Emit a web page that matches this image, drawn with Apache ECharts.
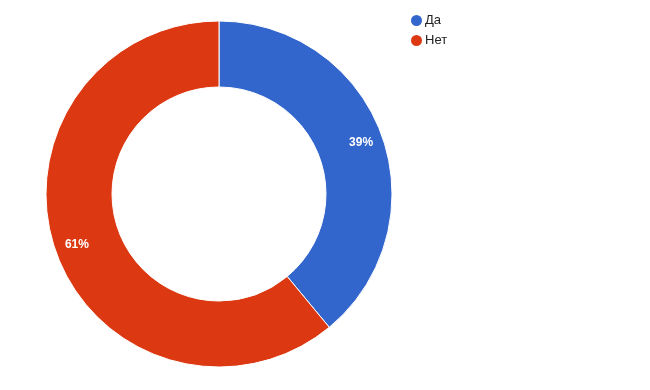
<!DOCTYPE html>
<html>
<head>
<meta charset="utf-8">
<script src="https://cdn.jsdelivr.net/npm/echarts@6/dist/echarts.min.js"></script>
<style>html,body{margin:0;padding:0;background:#fff;}#c{width:650px;height:390px;}</style>
</head>
<body>
<div id="c"></div>
<script>
var categories = ['Да', 'Нет'];
var values = [39, 61];
var colors = ['#3366CC', '#DC3912'];

var data = categories.map(function (name, i) {
  return { name: name, value: values[i], itemStyle: { color: colors[i] } };
});
var labelData = categories.map(function (name, i) {
  return { name: name, value: values[i] };
});

var chart = echarts.init(document.getElementById('c'), null, { renderer: 'canvas' });
chart.setOption({
  animation: false,
  backgroundColor: '#ffffff',
  legend: {
    orient: 'vertical',
    left: 404,
    top: 8,
    padding: 5,
    icon: 'circle',
    itemWidth: 13,
    itemHeight: 13,
    itemGap: 5,
    data: categories,
    textStyle: { fontFamily: 'Liberation Sans, Arial, sans-serif', fontSize: 13, color: '#222222', padding: [0, 0, 0, -3] }
  },
  series: [
    {
      type: 'pie',
      center: [219, 194],
      radius: [107, 173],
      startAngle: 90,
      clockwise: true,
      data: data,
      label: { show: false },
      labelLine: { show: false },
      itemStyle: { borderColor: '#ffffff', borderWidth: 1 },
      emphasis: { disabled: true }
    },
    {
      type: 'pie',
      center: [219, 194],
      radius: [123, 173],
      startAngle: 90,
      clockwise: true,
      silent: true,
      data: labelData,
      itemStyle: { color: 'rgba(0,0,0,0)' },
      label: {
        show: true,
        position: 'inside',
        formatter: function (p) { return p.value + '%'; },
        color: '#ffffff',
        fontWeight: 'bold',
        fontSize: 12,
        fontFamily: 'Liberation Sans, Arial, sans-serif'
      },
      labelLine: { show: false },
      emphasis: { disabled: true }
    }
  ]
});
</script>
</body>
</html>
